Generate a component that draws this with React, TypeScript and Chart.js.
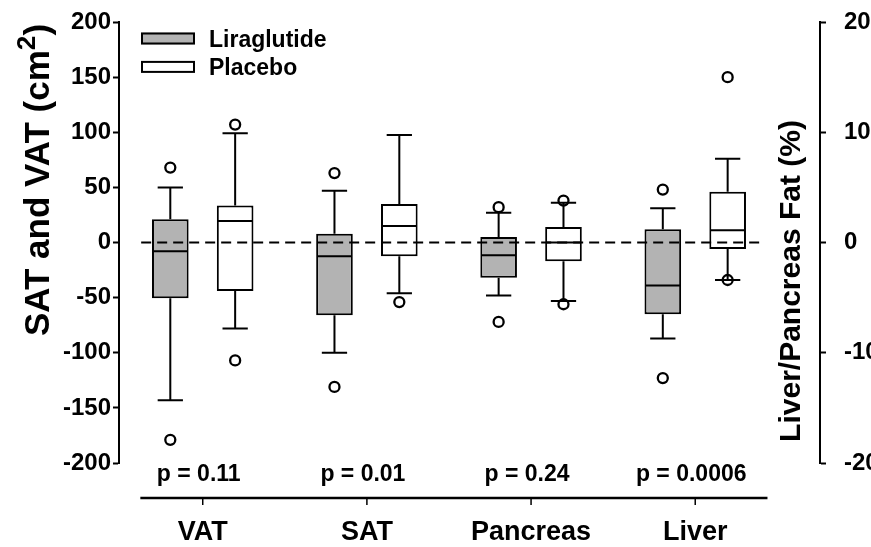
import React, { useEffect, useRef } from 'react';
import { Chart, registerables } from 'chart.js';

Chart.register(...registerables);

const FONT = "'Liberation Sans', Arial, Helvetica, sans-serif";

// ---------- data ----------
const categories = ['VAT', 'SAT', 'Pancreas', 'Liver'];
// VAT and SAT are in cm² (left axis); Pancreas and Liver are fat % (right axis)
const categoryAxis = ['y', 'y', 'y2', 'y2'];
const pValues = ['p = 0.11', 'p = 0.01', 'p = 0.24', 'p = 0.0006'];
const groupLabels = ['Liraglutide', 'Placebo'];
const groupFills = ['#b3b3b3', '#ffffff'];

const liraWhiskerLow = [-143, -100, -4.8, -8.7];
const liraQ1 = [-50.5, -66, -3.2, -6.5];
const liraMedian = [-8, -12.5, -1.15, -3.9];
const liraQ3 = [21, 8, 0.5, 1.2];
const liraWhiskerHigh = [50, 47, 2.7, 3.1];
const liraOutliers = [[68, -179], [63, -131], [3.2, -7.2], [4.8, -12.3]];

const placWhiskerLow = [-78, -46, -5.3, -3.4];
const placQ1 = [-44, -12.5, -1.7, -0.6];
const placMedian = [19.5, 15, 0, 1.1];
const placQ3 = [33.5, 35, 1.4, 4.6];
const placWhiskerHigh = [99, 97.5, 3.6, 7.6];
const placOutliers = [[107, -107], [-54], [3.8, -5.6], [15, -3.4]];

const leftAxisTicks = [-200, -150, -100, -50, 0, 50, 100, 150, 200];
const rightAxisTicks = [-20, -10, 0, 10, 20];
const leftTitleParts = ['SAT and VAT (cm', '2', ')'];
const rightTitle = 'Liver/Pancreas Fat (%)';

const groupStats = [
  { lo: liraWhiskerLow, q1: liraQ1, med: liraMedian, q3: liraQ3, hi: liraWhiskerHigh, out: liraOutliers },
  { lo: placWhiskerLow, q1: placQ1, med: placMedian, q3: placQ3, hi: placWhiskerHigh, out: placOutliers },
];

function buildDatasets() {
  const sets: any[] = [];
  ['y', 'y2'].forEach((axisId) => {
    groupStats.forEach((s, g) => {
      const data = categories
        .map((_, i) => i)
        .filter((i) => categoryAxis[i] === axisId)
        .map((i) => ({ x: i, y: [s.q1[i], s.q3[i]], lo: s.lo[i], hi: s.hi[i], med: s.med[i], out: s.out[i] }));
      sets.push({
        label: groupLabels[g],
        yAxisID: axisId,
        data,
        backgroundColor: groupFills[g],
        borderColor: '#000',
        borderWidth: 2,
        borderSkipped: false,
        skipNull: true,
        categoryPercentage: 0.79,
        barPercentage: 0.565,
      });
    });
  });
  return sets;
}

// ---------- plugins ----------
const whiteBg = {
  id: 'whiteBg',
  beforeDraw(chart: any) {
    const { ctx, width, height } = chart;
    ctx.save();
    ctx.fillStyle = '#fff';
    ctx.fillRect(0, 0, width, height);
    ctx.restore();
  },
};

const boxWhiskers = {
  id: 'boxWhiskers',
  afterDatasetsDraw(chart: any) {
    const ctx = chart.ctx;
    ctx.save();
    ctx.strokeStyle = '#000';
    chart.data.datasets.forEach((ds: any, di: number) => {
      const meta = chart.getDatasetMeta(di);
      const yScale = chart.scales[ds.yAxisID];
      const py = (v: number) => yScale.getPixelForValue(v);
      meta.data.forEach((bar: any, j: number) => {
        const pt = ds.data[j];
        const { x, width } = bar.getProps(['x', 'width'], true);
        const cap = width * 0.69;
        ctx.lineWidth = 2;
        ctx.beginPath();
        ctx.moveTo(x, py(pt.y[1]));
        ctx.lineTo(x, py(pt.hi));
        ctx.moveTo(x - cap / 2, py(pt.hi));
        ctx.lineTo(x + cap / 2, py(pt.hi));
        ctx.moveTo(x, py(pt.y[0]));
        ctx.lineTo(x, py(pt.lo));
        ctx.moveTo(x - cap / 2, py(pt.lo));
        ctx.lineTo(x + cap / 2, py(pt.lo));
        ctx.moveTo(x - width / 2 + 1, py(pt.med));
        ctx.lineTo(x + width / 2 - 1, py(pt.med));
        ctx.stroke();
        ctx.lineWidth = 2.3;
        pt.out.forEach((o: number) => {
          ctx.beginPath();
          ctx.arc(x, py(o), 5, 0, Math.PI * 2);
          ctx.stroke();
        });
      });
    });
    ctx.restore();
  },
};

const decorations = {
  id: 'decorations',
  afterDraw(chart: any) {
    const { ctx, chartArea } = chart;
    const xs = chart.scales.x;
    const ys = chart.scales.y;
    ctx.save();

    // zero reference line
    ctx.strokeStyle = '#000';
    ctx.lineWidth = 1.8;
    ctx.setLineDash([10, 6]);
    ctx.beginPath();
    const zy = ys.getPixelForValue(0);
    ctx.moveTo(xs.getPixelForValue(-0.375), zy);
    ctx.lineTo(xs.getPixelForValue(3.41), zy);
    ctx.stroke();
    ctx.setLineDash([]);

    // separate category axis line with ticks
    const lineY = chartArea.bottom + 35;
    ctx.lineWidth = 2.5;
    ctx.beginPath();
    ctx.moveTo(xs.getPixelForValue(-0.38), lineY);
    ctx.lineTo(xs.getPixelForValue(3.44), lineY);
    ctx.stroke();
    ctx.lineWidth = 1.5;
    categories.forEach((_, i) => {
      const px = xs.getPixelForValue(i);
      ctx.beginPath();
      ctx.moveTo(px, lineY);
      ctx.lineTo(px, lineY + 7);
      ctx.stroke();
    });

    // p-values
    ctx.fillStyle = '#000';
    ctx.font = `bold 23px ${FONT}`;
    ctx.textAlign = 'center';
    ctx.textBaseline = 'alphabetic';
    pValues.forEach((p, i) => {
      ctx.fillText(p, xs.getPixelForValue(i) - 4, chartArea.bottom + 18);
    });

    // legend
    const lx = chartArea.left + 22;
    groupLabels.forEach((label, k) => {
      const top = chartArea.top + 10.5 + k * 28.4;
      ctx.fillStyle = groupFills[k];
      ctx.fillRect(lx, top, 54, 12);
      ctx.lineWidth = 2;
      ctx.strokeStyle = '#000';
      ctx.strokeRect(lx + 1, top + 1, 52, 10);
      ctx.fillStyle = '#000';
      ctx.font = `bold 23px ${FONT}`;
      ctx.textAlign = 'left';
      ctx.textBaseline = 'alphabetic';
      ctx.fillText(label, lx + 68, top + 6 + 8.5);
    });

    // left axis title with superscript
    const ls = 35;
    ctx.save();
    ctx.translate(49, 180);
    ctx.rotate(-Math.PI / 2);
    ctx.font = `bold ${ls}px ${FONT}`;
    const w1 = ctx.measureText(leftTitleParts[0]).width;
    const w3 = ctx.measureText(leftTitleParts[2]).width;
    ctx.font = `bold ${ls * 0.75}px ${FONT}`;
    const w2 = ctx.measureText(leftTitleParts[1]).width;
    let tx = -(w1 + w2 + w3) / 2;
    ctx.textAlign = 'left';
    ctx.textBaseline = 'alphabetic';
    ctx.font = `bold ${ls}px ${FONT}`;
    ctx.fillText(leftTitleParts[0], tx, 0);
    tx += w1;
    ctx.font = `bold ${ls * 0.75}px ${FONT}`;
    ctx.fillText(leftTitleParts[1], tx, -ls * 0.4);
    tx += w2;
    ctx.font = `bold ${ls}px ${FONT}`;
    ctx.fillText(leftTitleParts[2], tx, 0);
    ctx.restore();

    // right axis title (inside plot, left of right axis)
    ctx.save();
    ctx.translate(chartArea.right - 20, 281);
    ctx.rotate(-Math.PI / 2);
    ctx.font = `bold 30px ${FONT}`;
    ctx.textAlign = 'center';
    ctx.textBaseline = 'alphabetic';
    ctx.fillText(rightTitle, 0, 0);
    ctx.restore();

    ctx.restore();
  },
};

export default function App() {
  const ref = useRef<HTMLCanvasElement | null>(null);

  useEffect(() => {
    if (!ref.current) return;
    const tickFont = { family: FONT, size: 24, weight: 'bold' as const };
    const chart = new Chart(ref.current, {
      type: 'bar',
      data: { datasets: buildDatasets() },
      plugins: [whiteBg, boxWhiskers, decorations],
      options: {
        animation: false,
        responsive: false,
        events: [],
        layout: { padding: { top: 22, bottom: 0, left: 0, right: 0 } },
        plugins: { legend: { display: false }, tooltip: { enabled: false } },
        scales: {
          x: {
            type: 'linear',
            min: -0.51,
            max: 3.76,
            offset: false,
            grid: { display: false, drawTicks: false },
            border: { display: false },
            afterBuildTicks: (s: any) => {
              s.ticks = categories.map((_, i) => ({ value: i }));
            },
            afterFit: (s: any) => {
              s.height = 84;
              s.paddingLeft = 0;
              s.paddingRight = 0;
            },
            ticks: {
              autoSkip: false,
              maxRotation: 0,
              padding: 53,
              color: '#000',
              font: { family: FONT, size: 27, weight: 'bold' },
              callback: (v: any) => categories[v] ?? '',
            },
          },
          y: {
            type: 'linear',
            position: 'left',
            min: -200,
            max: 200,
            afterBuildTicks: (s: any) => {
              s.ticks = leftAxisTicks.map((v) => ({ value: v }));
            },
            afterFit: (s: any) => {
              s.width = 119;
              s.paddingTop = 0;
              s.paddingBottom = 0;
            },
            grid: { drawOnChartArea: false, drawTicks: true, tickLength: 6, tickWidth: 2, tickColor: '#000' },
            border: { display: true, color: '#000', width: 2 },
            ticks: { color: '#000', font: tickFont, padding: 2 },
          },
          y2: {
            type: 'linear',
            position: 'right',
            min: -20,
            max: 20,
            afterBuildTicks: (s: any) => {
              s.ticks = rightAxisTicks.map((v) => ({ value: v }));
            },
            afterFit: (s: any) => {
              s.width = 51;
              s.paddingTop = 0;
              s.paddingBottom = 0;
            },
            grid: { drawOnChartArea: false, drawTicks: true, tickLength: 6, tickWidth: 2, tickColor: '#000' },
            border: { display: true, color: '#000', width: 2 },
            ticks: { color: '#000', font: tickFont, padding: 18 },
          },
        },
      } as any,
    });
    return () => chart.destroy();
  }, []);

  return (
    <div style={{ position: 'fixed', left: 0, top: 0, width: 871, height: 547, background: '#fff' }}>
      <canvas ref={ref} width={871} height={547} style={{ display: 'block' }} />
    </div>
  );
}
